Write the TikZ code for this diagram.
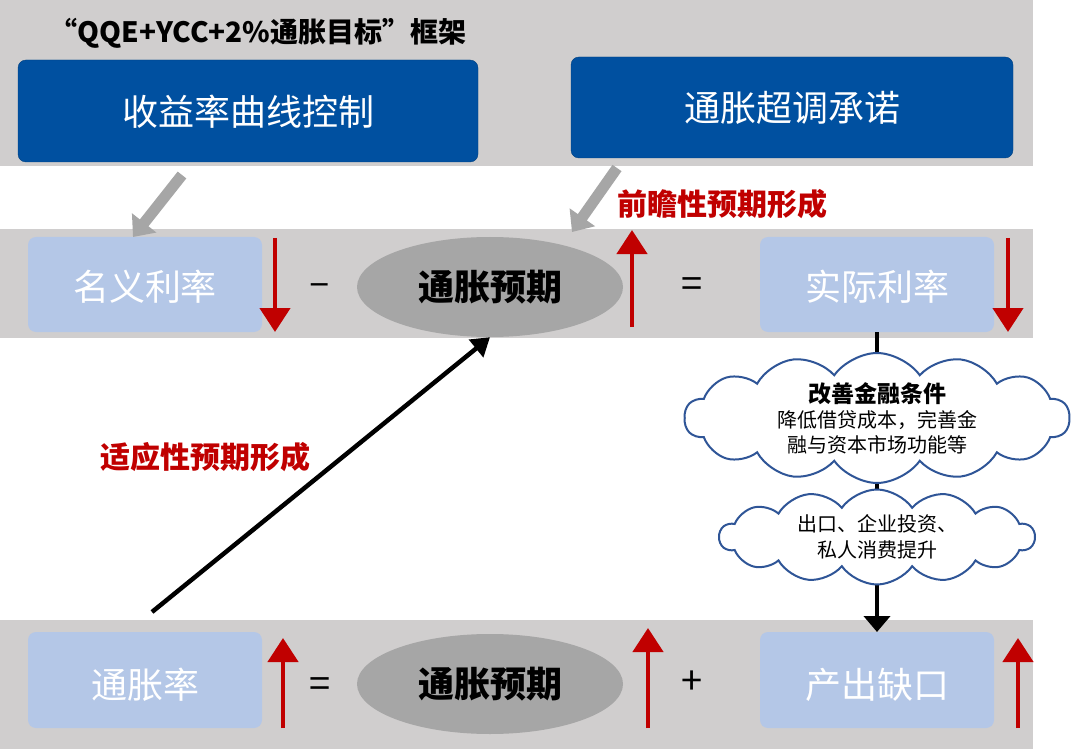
\documentclass[tikz,border=0pt]{standalone}
\usepackage{fontspec}
\setmainfont{Noto Sans CJK SC}
\usetikzlibrary{shapes.symbols,shapes.geometric,arrows.meta}
\definecolor{band}{HTML}{D0CECE}
\definecolor{dblue}{HTML}{0050A0}
\definecolor{lblue}{HTML}{B4C7E7}
\definecolor{ell}{HTML}{A6A6A6}
\definecolor{redd}{HTML}{C00000}
\definecolor{cloudb}{HTML}{2F5597}
\begin{document}
\begin{tikzpicture}[x=1pt,y=-1pt,
 dbox/.style={draw=dblue!80!black,fill=dblue,rounded corners=8pt},
 dtxt/.style={text=white,font=\fontsize{36}{40}\selectfont},
 lbox/.style={fill=lblue,rounded corners=8pt},
 ltxt/.style={text=white,font=\fontsize{36}{40}\selectfont},
 ellp/.style={ellipse,fill=ell,minimum width=266pt,minimum height=100pt,font=\bfseries\fontsize{36}{40}\selectfont},
 redarr/.style={draw=redd,line width=4.5pt,-{Triangle[length=24pt,width=30pt]}},
 op/.style={font=\fontsize{38}{42}\selectfont},
 lab/.style={text=redd,font=\bfseries\fontsize{30}{34}\selectfont},
 cld/.style={cloud,cloud puffs=14,cloud puff arc=110,aspect=2.6,draw=cloudb,line width=2pt,fill=white,align=center,inner sep=0pt}]
\useasboundingbox (0,0) rectangle (1080,749);
\fill[white] (0,0) rectangle (1080,749);
\fill[band] (0,0) rectangle (1033,166);
\fill[band] (0,229) rectangle (1033,338);
\fill[band] (0,620) rectangle (1033,749);
\node[anchor=west,font=\bfseries\fontsize{28}{32}\selectfont] (title) at (46,33) {“QQE+YCC+2\%通胀目标”框架};
\path[dbox] (18,60) rectangle (478,162); \node[dtxt] (ycc) at (248,112) {收益率曲线控制};
\path[dbox] (571,57) rectangle (1013,158); \node[dtxt] (ovs) at (792,108) {通胀超调承诺};
% middle row
\path[lbox] (28,237) rectangle (262,332); \node[ltxt] (nom) at (145,287) {名义利率};
\path[lbox] (760,237) rectangle (994,332); \node[ltxt] (real) at (877,287) {实际利率};
\node[ellp] (exp1) at (490,287) {通胀预期};
\node[op] (minus) at (320,290) {–};
\node[op] (eq1) at (692,288) {=};
\coordinate (r1a) at (275,238); \coordinate (r1b) at (275,332);
\draw[redarr] (r1a) -- (r1b);
\coordinate (r2a) at (632,327); \coordinate (r2b) at (632,230);
\draw[redarr] (r2a) -- (r2b);
\coordinate (r3a) at (1008,238); \coordinate (r3b) at (1008,332);
\draw[redarr] (r3a) -- (r3b);
% gray arrows
\coordinate (g1a) at (182,175); \coordinate (g1b) at (133,237);
\draw[ell,line width=11pt,-{Triangle[length=18pt,width=30pt]}] (g1a) -- (g1b);
\coordinate (g2a) at (617,168); \coordinate (g2b) at (572,232);
\draw[ell,line width=11pt,-{Triangle[length=18pt,width=30pt]}] (g2a) -- (g2b);
\node[lab] (fwd) at (722,204) {前瞻性预期形成};
% bottom row
\path[lbox] (28,632) rectangle (262,728); \node[ltxt] (inf) at (145,685) {通胀率};
\path[lbox] (760,632) rectangle (994,728); \node[ltxt] (gap) at (877,685) {产出缺口};
\node[ellp] (exp2) at (490,684) {通胀预期};
\node[op] (eq2) at (320,688) {=};
\node[op] (plus) at (692,683) {+};
\coordinate (u1a) at (283,728); \coordinate (u1b) at (283,638);
\draw[redarr] (u1a) -- (u1b);
\coordinate (u2a) at (648,728); \coordinate (u2b) at (648,628);
\draw[redarr] (u2a) -- (u2b);
\coordinate (u3a) at (1018,728); \coordinate (u3b) at (1018,638);
\draw[redarr] (u3a) -- (u3b);
% adaptive arrow
\coordinate (adp) at (152,612);
\draw[line width=4.5pt,-{Triangle[length=18pt,width=22pt]}] (adp) -- (exp1.south);
\node[lab] (adl) at (205,457) {适应性预期形成};
% vertical arrow and clouds
\coordinate (vtop) at (877,332);
\coordinate (vbot) at (877,632);
\draw[line width=4.5pt,-{Triangle[length=16pt,width=26pt]}] (vtop) -- (vbot);
\node[cld,minimum width=385pt,minimum height=130pt] (c1) at (877,418) {};
\node[align=center,font=\fontsize{20}{25}\selectfont] (c1t) at (877,418) {{\bfseries\fontsize{23}{26}\selectfont 改善金融条件}\\降低借贷成本，完善金\\融与资本市场功能等};
\node[cld,minimum width=315pt,minimum height=95pt] (c2) at (877,537) {};
\node[align=center,font=\fontsize{20}{26}\selectfont] (c2t) at (877,537) {出口、企业投资、\\私人消费提升};
\end{tikzpicture}
\end{document}
